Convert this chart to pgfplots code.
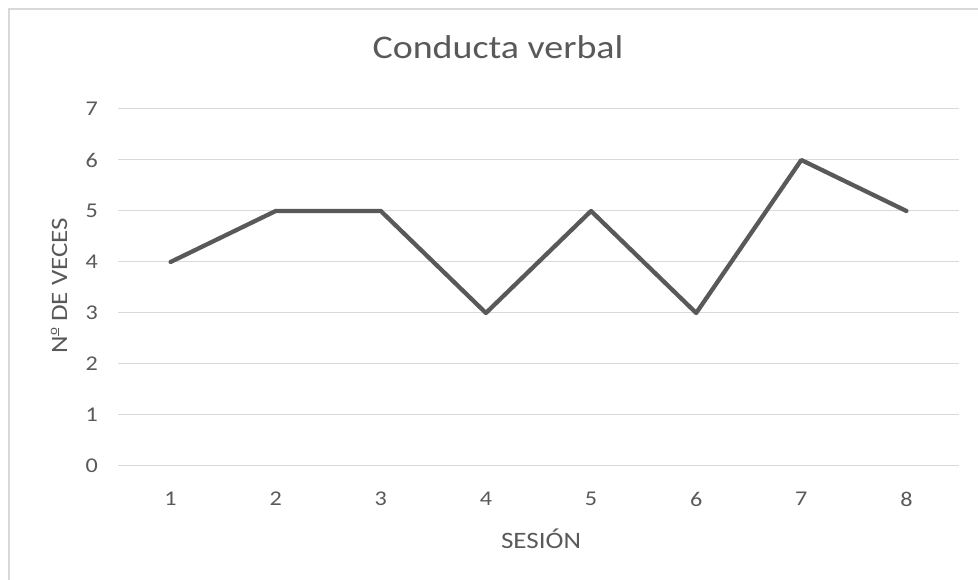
\documentclass[border=0pt]{standalone}
\usepackage{fontspec}
\setmainfont[FakeStretch=1.15]{Carlito}
\usepackage{pgfplots}
\pgfplotsset{compat=1.18}
\definecolor{txtgray}{HTML}{595959}
\definecolor{gridgray}{HTML}{D9D9D9}
\definecolor{linegray}{HTML}{595959}
% masculine ordinal with its underbar
\newcommand{\ordo}{\raisebox{0.42em}{\fontsize{13}{13}\selectfont\underline{o}}}
\begin{document}
\begin{tikzpicture}[x=1pt,y=1pt]
\useasboundingbox (0,0) rectangle (978,580);
% chart frame
\draw[gridgray, line width=2pt] (8.7,-5) -- (8.7,570.5) -- (990,570.5);
\begin{axis}[
  at={(118pt,114pt)}, anchor=south west,
  scale only axis, width=841pt, height=357pt,
  xmin=0.5, xmax=8.5, ymin=0, ymax=7,
  xtick={1,...,8}, ytick={0,...,7},
  major tick length=0pt,
  axis line style={draw=none},
  ymajorgrids,
  grid style={draw=gridgray, line width=1pt},
  /pgf/number format/assume math mode=true,
  ticklabel style={font=\fontsize{21}{24}\selectfont, text=txtgray},
  yticklabel style={anchor=east, inner sep=0pt, xshift=-20pt},
  xticklabel style={anchor=north, inner sep=0pt, yshift=-26pt},
  title={Conducta verbal},
  title style={at={(axis description cs:0.4518,1.126)}, anchor=base,
    font=\fontsize{33}{38}\selectfont, text=txtgray},
  xlabel={SESIÓN},
  xlabel style={at={(axis description cs:0.503,-0.2297)}, anchor=base,
    font=\fontsize{23.5}{27}\selectfont, text=txtgray},
  ylabel={N\ordo{} DE VECES},
  ylabel style={at={(axis description cs:-0.0606,0.5056)}, anchor=base,
    font=\fontsize{23.5}{27}\selectfont, text=txtgray},
]
\addplot[linegray, line width=4.3pt, line join=round, line cap=round] coordinates {
  (1,4) (2,5) (3,5) (4,3) (5,5) (6,3) (7,6) (8,5)
};
\end{axis}
\end{tikzpicture}
\end{document}
